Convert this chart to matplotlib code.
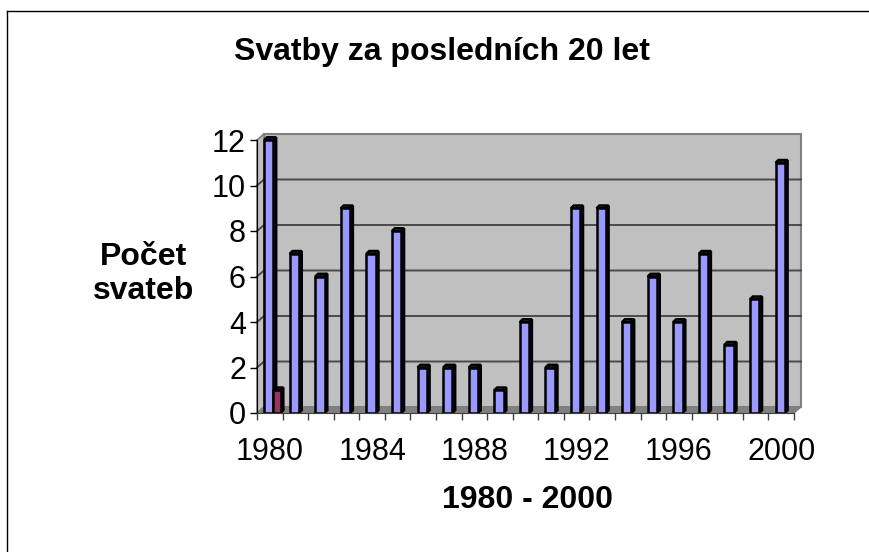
import numpy as np
import matplotlib
matplotlib.use("Agg")
import matplotlib.pyplot as plt
from matplotlib.patches import Polygon
from matplotlib.lines import Line2D

# Weddings per year, 1980 - 2000
YEARS = list(range(1980, 2001))
WEDDINGS = [12, 7, 6, 9, 7, 8, 2, 2, 2, 1, 4, 2, 9, 9, 4, 6, 4, 7, 3, 5, 11]
# second (small) series, only one value at 1980
SECOND_YEARS = [1980]
SECOND_VALUES = [1]

TICK_YEARS = [1980, 1984, 1988, 1992, 1996, 2000]
Y_TICKS = [0, 2, 4, 6, 8, 10, 12]

plt.rcParams["font.family"] = ["Liberation Sans", "DejaVu Sans"]

fig = plt.figure(figsize=(8.69, 5.52), dpi=100)
ax = fig.add_axes([257 / 869, 139 / 552, 537 / 869, 273 / 552])
x0, x1 = YEARS[0] - 0.5, YEARS[-1] + 0.5
ax.set_xlim(x0, x1)
ax.set_ylim(0, 12)
ax.set_facecolor("none")

# depth of the fake 3D walls, in data units
DX = 7 / (537 / 21)
DY = 6 / (273 / 12)

wall = "#C0C0C0"
ax.add_patch(Polygon([(x0 + DX, DY), (x1 + DX, DY), (x1 + DX, 12 + DY), (x0 + DX, 12 + DY)],
                     fc=wall, ec="#808080", lw=1.5, clip_on=False, zorder=0))
ax.add_patch(Polygon([(x0, 0), (x0 + DX, DY), (x0 + DX, 12 + DY), (x0, 12)],
                     fc=wall, ec="#808080", lw=1.2, clip_on=False, zorder=0.5))
ax.add_patch(Polygon([(x0, 0), (x1, 0), (x1 + DX, DY), (x0 + DX, DY)],
                     fc="#808080", ec="#808080", lw=1, clip_on=False, zorder=0.5))

# gridlines on side wall + back wall
for y in Y_TICKS[1:-1]:
    ax.add_line(Line2D([x0, x0 + DX, x1 + DX], [y, y + DY, y + DY],
                       color="#4a4a4a", lw=1.4, clip_on=False, zorder=1))


def draw_bars(xs, vals, width, face, side, z):
    bars = ax.bar(xs, vals, width, color=face, edgecolor="black", linewidth=1.8, zorder=z)
    bdx, bdy = 0.11, 0.12
    for x, v in zip(xs, vals):
        r = x + width / 2
        l = x - width / 2
        ax.add_patch(Polygon([(r, 0), (r + bdx, bdy), (r + bdx, v + bdy), (r, v)],
                             fc=side, ec="black", lw=1.8, clip_on=False, zorder=z - 0.1))
        ax.add_patch(Polygon([(l, v), (r, v), (r + bdx, v + bdy), (l + bdx, v + bdy)],
                             fc=side, ec="black", lw=1.8, clip_on=False, zorder=z - 0.1))
    return bars


draw_bars(np.array(YEARS) - 0.04, WEDDINGS, 0.36, "#9999FF", "#6666CC", 3)
draw_bars(np.array(SECOND_YEARS) + 0.28, SECOND_VALUES, 0.28, "#993366", "#661A44", 4)

# axes, ticks
for s in ["top", "right"]:
    ax.spines[s].set_visible(False)
ax.spines["left"].set_color("black")
ax.spines["bottom"].set_color("#404040")
ax.spines["left"].set_zorder(5)
ax.spines["bottom"].set_zorder(5)

ax.set_yticks(Y_TICKS)
ax.tick_params(axis="y", length=5, width=1, labelsize=22, pad=3)
ax.set_xticks(TICK_YEARS)
ax.set_xticklabels([str(t) for t in TICK_YEARS])
ax.set_xticks(np.arange(x0, x1 + 0.01, 1), minor=True)
ax.tick_params(axis="x", which="major", length=0, labelsize=22, pad=17)
ax.tick_params(axis="x", which="minor", length=5, width=1, color="#404040")

# texts
fig.text(442 / 869, 1 - 52 / 552, "Svatby za posledních 20 let",
         ha="center", va="center", fontsize=23, fontweight="bold")
fig.text(144 / 869, 1 - 274 / 552, "Počet\nsvateb",
         ha="center", va="center", fontsize=23, fontweight="bold", linespacing=1.15)
fig.text(527 / 869, 1 - 500 / 552, "1980 - 2000",
         ha="center", va="center", fontsize=23, fontweight="bold")

# chart frame (left and top edges visible in the crop)
fig.add_artist(Line2D([7.5 / 869, 7.5 / 869], [0, 1 - 10.5 / 552],
                      transform=fig.transFigure, color="black", lw=1))
fig.add_artist(Line2D([7.5 / 869, 1], [1 - 10.5 / 552, 1 - 10.5 / 552],
                      transform=fig.transFigure, color="black", lw=1))

fig.savefig("out.png", dpi=100)
